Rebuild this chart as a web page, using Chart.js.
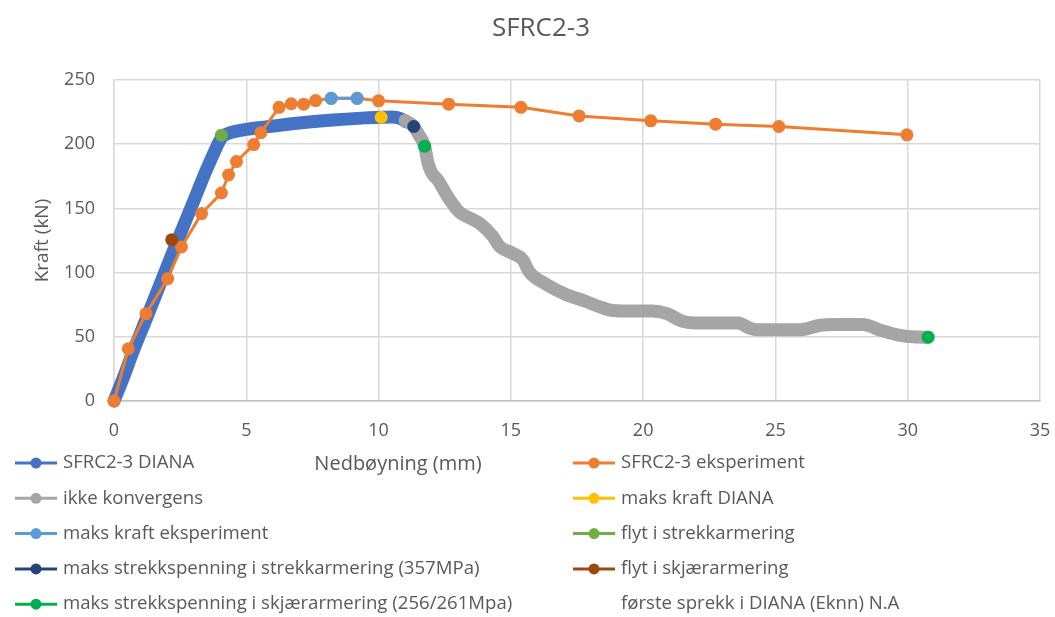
<!DOCTYPE html>
<html>
<head>
<meta charset="utf-8">
<title>SFRC2-3</title>
<script src="https://cdn.jsdelivr.net/npm/chart.js@4.4.1/dist/chart.umd.min.js"></script>
<style>
  html, body { margin: 0; padding: 0; background: #ffffff; }
  canvas { display: block; }
</style>
</head>
<body>
<canvas id="chart" width="1055" height="617"></canvas>
<script>
// ---- Text ----
const chartTitle = 'SFRC2-3';
const xAxisTitle = 'Nedbøyning (mm)';
const yAxisTitle = 'Kraft (kN)';

// ---- Axis ticks ----
const xTickValues = [0, 5, 10, 15, 20, 25, 30, 35];
const yTickValues = [0, 50, 100, 150, 200, 250];

// ---- Series: deflection (mm) / force (kN) ----
// Numerical model (DIANA), converged part
const dianaX = [0, 0.35, 0.73, 1.26, 1.82, 2.3, 2.96, 3.43, 3.75, 3.95, 4.1, 4.4, 5.0, 5.76, 7.0, 8.27, 9.5, 10.1, 10.5, 10.85, 11.05];
const dianaY = [0, 18, 39, 66, 95, 120, 153, 177, 192, 201, 206, 209, 211.5, 213.5, 216.5, 218.8, 220.5, 221, 221.2, 219.8, 217.5];

// Laboratory test
const expX = [0, 0.54, 1.21, 2.03, 2.55, 3.31, 4.06, 4.33, 4.63, 5.28, 5.55, 6.24, 6.70, 7.17, 7.62, 8.21, 9.19, 10.0, 12.65, 15.38, 17.58, 20.29, 22.74, 25.13, 29.97];
const expY = [0, 40.6, 68, 95.3, 120, 146, 162, 176, 186.5, 199.7, 209, 228.7, 231.5, 231.2, 234, 235.7, 235.7, 233.8, 231.2, 228.7, 222, 218.2, 215.6, 213.8, 207.3];

// Numerical model, steps without convergence
const noConvX = [11.0, 11.2, 11.33, 11.5, 11.74, 11.86, 12.0, 12.24, 12.68, 13.06, 13.5, 13.81, 14.31, 14.57, 15.07, 15.45, 15.7, 16.33, 17.08, 17.84, 18.34, 18.84, 19.6, 20.35, 20.9, 21.5, 22.0, 23.6, 24.0, 24.3, 25.9, 26.7, 27.2, 28.3, 29.0, 29.6, 30.3, 30.77];
const noConvY = [218.5, 216, 213.8, 208, 198.5, 186, 178, 172, 157, 147, 142, 138.5, 128.5, 120.5, 115, 110, 100.5, 91, 83, 77.5, 73.5, 70.5, 70, 70, 68, 62, 60.7, 60.7, 57, 55.5, 55.5, 59, 59.5, 59.5, 55, 51.5, 49.8, 49.7];

// Single events
const maxForceDianaX = [10.1];
const maxForceDianaY = [221];
const maxForceExpX = [8.21, 9.19];
const maxForceExpY = [235.7, 235.7];
const yieldTensionX = [4.06];
const yieldTensionY = [207];
const maxTensionStressX = [11.33];
const maxTensionStressY = [213.8];
const yieldShearX = [2.18];
const yieldShearY = [125.6];
const maxShearStressX = [11.74, 30.77];
const maxShearStressY = [198.5, 49.7];

const toPoints = (xs, ys) => xs.map((x, i) => ({ x: x, y: ys[i] }));

const FONT = '"Open Sans", "Liberation Sans", sans-serif';
const TEXT = '#595959';

function lineSeries(label, xs, ys, color, opts) {
  return Object.assign({
    label: label,
    data: toPoints(xs, ys),
    borderColor: color,
    backgroundColor: color,
    pointBackgroundColor: color,
    pointBorderColor: color,
    pointBorderWidth: 0,
    borderCapStyle: 'round',
    borderJoinStyle: 'round',
    clip: false,
    legendColor: color
  }, opts);
}

const datasets = [
  lineSeries('SFRC2-3 DIANA', dianaX, dianaY, '#4472C4',
    { borderWidth: 13, pointRadius: 0, cubicInterpolationMode: 'monotone', order: 10 }),
  lineSeries('SFRC2-3 eksperiment', expX, expY, '#ED7D31',
    { borderWidth: 3, pointRadius: 6.5, tension: 0, order: 8 }),
  lineSeries('ikke konvergens', noConvX, noConvY, '#A5A5A5',
    { borderWidth: 13, pointRadius: 0, cubicInterpolationMode: 'monotone', order: 9 }),
  lineSeries('maks kraft DIANA', maxForceDianaX, maxForceDianaY, '#FFC000',
    { showLine: false, pointRadius: 6.5, order: 2 }),
  lineSeries('maks kraft eksperiment', maxForceExpX, maxForceExpY, '#5B9BD5',
    { borderWidth: 3, pointRadius: 6.5, order: 3 }),
  lineSeries('flyt i strekkarmering', yieldTensionX, yieldTensionY, '#70AD47',
    { showLine: false, pointRadius: 6.5, order: 2 }),
  lineSeries('maks strekkspenning i strekkarmering (357MPa)', maxTensionStressX, maxTensionStressY, '#264478',
    { showLine: false, pointRadius: 6.5, order: 2 }),
  lineSeries('flyt i skjærarmering', yieldShearX, yieldShearY, '#9E480E',
    { showLine: false, pointRadius: 6.5, order: 2 }),
  lineSeries('maks strekkspenning i skjærarmering (256/261Mpa)', maxShearStressX, maxShearStressY, '#00B050',
    { showLine: false, pointRadius: 6.5, order: 1 }),
  { label: 'første sprekk i DIANA (Eknn) N.A', data: [], showLine: false, pointRadius: 0, legendColor: null }
];

// Title, two-column legend under the plot, and the horizontal axis caption
const chartDecor = {
  id: 'chartDecor',
  afterDraw(chart) {
    const ctx = chart.ctx;
    ctx.save();
    ctx.fillStyle = TEXT;
    ctx.textAlign = 'center';
    ctx.textBaseline = 'middle';
    ctx.font = '26px ' + FONT;
    ctx.fillText(chartTitle, 541, 29);

    ctx.font = '18.6px ' + FONT;
    chart.data.datasets.forEach((ds, i) => {
      const col = i % 2;
      const row = Math.floor(i / 2);
      const x0 = col === 0 ? 15 : 573;
      const y = 463 + row * 35.3;
      if (ds.legendColor) {
        ctx.strokeStyle = ds.legendColor;
        ctx.fillStyle = ds.legendColor;
        ctx.lineWidth = 3;
        ctx.beginPath();
        ctx.moveTo(x0, y);
        ctx.lineTo(x0 + 42, y);
        ctx.stroke();
        ctx.beginPath();
        ctx.arc(x0 + 21, y, 5.5, 0, Math.PI * 2);
        ctx.fill();
      }
      ctx.fillStyle = TEXT;
      ctx.textAlign = 'left';
      ctx.fillText(ds.label, x0 + 48, y);
    });

    ctx.textAlign = 'center';
    ctx.font = '20px ' + FONT;
    ctx.fillStyle = TEXT;
    ctx.fillText(xAxisTitle, 398, 464);
    ctx.restore();
  }
};

new Chart(document.getElementById('chart'), {
  type: 'line',
  data: { datasets: datasets },
  plugins: [chartDecor],
  options: {
    responsive: false,
    animation: false,
    events: [],
    layout: { padding: { top: 80, left: 0, right: 15, bottom: 176 } },
    plugins: {
      legend: { display: false },
      tooltip: { enabled: false },
      title: { display: false }
    },
    scales: {
      x: {
        type: 'linear',
        min: 0,
        max: 35,
        afterBuildTicks: s => { s.ticks = xTickValues.map(v => ({ value: v })); },
        afterFit: s => { s.height = 40; s.paddingLeft = 0; s.paddingRight = 10; },
        grid: { color: '#D9D9D9', lineWidth: 1.5, drawTicks: false },
        border: { color: '#BFBFBF', width: 1.5 },
        ticks: { color: TEXT, font: { family: FONT, size: 18 }, padding: 19, maxRotation: 0 }
      },
      y: {
        type: 'linear',
        min: 0,
        max: 250,
        afterBuildTicks: s => { s.ticks = yTickValues.map(v => ({ value: v })); },
        afterFit: s => { s.width = 114; s.paddingTop = 0; s.paddingBottom = 0; },
        grid: { color: '#D9D9D9', lineWidth: 1.5, drawTicks: false },
        border: { color: '#D9D9D9', width: 1.5 },
        ticks: { color: TEXT, font: { family: FONT, size: 18 }, padding: 19 },
        title: {
          display: true,
          text: yAxisTitle,
          color: TEXT,
          font: { family: FONT, size: 19, weight: 'normal' },
          padding: { top: 31.6, bottom: 0 }
        }
      }
    }
  }
});
</script>
</body>
</html>
